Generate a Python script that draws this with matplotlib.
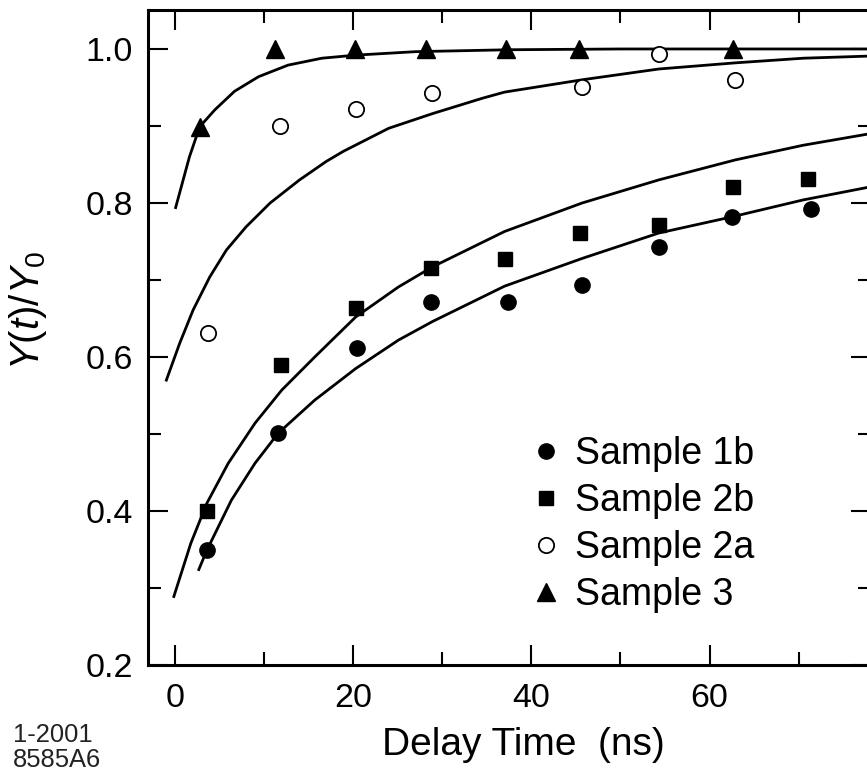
import matplotlib
matplotlib.use("Agg")
import matplotlib.pyplot as plt
from matplotlib.ticker import MultipleLocator, FormatStrFormatter

# ── Daten ────────────────────────────────────────────────────────────────────

t_1b = [3.6, 11.6, 20.4, 28.8, 37.4, 45.7, 54.3, 62.5, 71.4]
y_1b = [0.349, 0.501, 0.612, 0.671, 0.671, 0.693, 0.743, 0.782, 0.792]

t_2b = [3.6, 11.9, 20.3, 28.7, 37.1, 45.5, 54.3, 62.6, 71.0]
y_2b = [0.400, 0.590, 0.663, 0.716, 0.727, 0.761, 0.772, 0.821, 0.831]

t_2a = [3.7, 11.8, 20.3, 28.9, 45.7, 54.3, 62.8]
y_2a = [0.631, 0.900, 0.922, 0.943, 0.950, 0.994, 0.960]

t_3 = [2.8, 11.3, 20.2, 28.2, 37.2, 45.3, 62.6]
y_3 = [0.899, 1.0, 1.0, 1.0, 1.0, 1.0, 1.0]

# Fit-Kurven
fit_1b_t = [2.7, 3.6, 6.35, 9.0, 11.6, 15.7, 20.3, 25.1, 28.9, 37.0, 45.7, 54.3, 62.5, 70.5, 78.5]
fit_1b_y = [0.324, 0.349, 0.414, 0.462, 0.501, 0.544, 0.585, 0.622, 0.646, 0.692, 0.728, 0.761, 0.782, 0.804, 0.822]

fit_2b_t = [-0.1, 1.8, 3.6, 6.0, 9.0, 12.0, 15.7, 20.3, 25.1, 28.9, 37.0, 45.7, 54.3, 62.9, 70.5, 78.5]
fit_2b_y = [0.289, 0.358, 0.410, 0.462, 0.514, 0.557, 0.600, 0.652, 0.691, 0.717, 0.763, 0.800, 0.830, 0.856, 0.875, 0.891]

fit_2a_t = [-0.94, 0.56, 2.06, 3.93, 5.8, 8.0, 10.7, 14.0, 17.0, 18.9, 24.0, 28.9, 34.5, 37.0, 45.7, 54.3, 62.9, 70.5, 78.5]
fit_2a_y = [0.570, 0.618, 0.661, 0.704, 0.739, 0.769, 0.800, 0.830, 0.854, 0.867, 0.897, 0.916, 0.936, 0.944, 0.960, 0.974, 0.982, 0.988, 0.991]

fit_3_t = [0.1, 1.65, 2.8, 4.5, 6.7, 9.4, 12.7, 16.5, 20.3, 27.0, 37.5, 50.0, 65.0, 78.5]
fit_3_y = [0.794, 0.860, 0.899, 0.921, 0.945, 0.964, 0.979, 0.988, 0.992, 0.9965, 0.999, 1.0, 1.0, 1.0]

# ── Plot ─────────────────────────────────────────────────────────────────────

plt.rcParams["font.family"] = ["Liberation Sans", "DejaVu Sans"]
plt.rcParams["mathtext.fontset"] = "custom"
plt.rcParams["mathtext.it"] = "Liberation Sans:italic"
plt.rcParams["mathtext.rm"] = "Liberation Sans"

fig = plt.figure(figsize=(8.67, 7.76), dpi=100)
ax = fig.add_axes([0.1707, 0.1430, 0.8339, 0.8441])

LW = 2.0
for ft, fy in [(fit_1b_t, fit_1b_y), (fit_2b_t, fit_2b_y),
               (fit_2a_t, fit_2a_y), (fit_3_t, fit_3_y)]:
    ax.plot(ft, fy, color="black", linewidth=LW, zorder=2)

ax.plot(t_1b, y_1b, "o", color="black", ms=11, ls="none", label="Sample 1b", zorder=3)
ax.plot(t_2b, y_2b, "s", color="black", ms=10.5, ls="none", label="Sample 2b", zorder=3)
ax.plot(t_2a, y_2a, "o", mfc="white", mec="black", mew=1.3, ms=11, ls="none",
        label="Sample 2a", zorder=3)
ax.plot(t_3, y_3, "^", color="black", ms=13, ls="none", label="Sample 3", zorder=3)

ax.set_xlim(-3, 78.1)
ax.set_ylim(0.2, 1.0506)

ax.xaxis.set_major_locator(MultipleLocator(20))
ax.xaxis.set_minor_locator(MultipleLocator(10))
ax.yaxis.set_major_locator(MultipleLocator(0.2))
ax.yaxis.set_minor_locator(MultipleLocator(0.1))
ax.yaxis.set_major_formatter(FormatStrFormatter("%.1f"))

ax.tick_params(which="both", direction="in", top=True, right=True, width=1.5)
ax.tick_params(which="major", length=14.5, labelsize=24.5)
ax.tick_params(axis="x", which="major", pad=13)
ax.tick_params(axis="y", which="major", pad=11)
ax.tick_params(which="minor", length=9.5)
for sp in ax.spines.values():
    sp.set_linewidth(2.2)

ax.set_xlabel("Delay Time  (ns)", fontsize=28)
ax.xaxis.set_label_coords(0.519, -0.095)
ax.set_ylabel(r"$\mathit{Y(t)/Y_0}$", fontsize=29)
ax.yaxis.set_label_coords(-0.137, 0.542)

ax.legend(loc="upper left", bbox_to_anchor=(0.504, 0.378), frameon=False,
          fontsize=27, handlelength=0.8, handletextpad=0.37,
          labelspacing=0.29, borderpad=0)

fig.text(0.015, 0.0438, "1-2001", fontsize=18.4, color="#222222",
         ha="left", va="baseline")
fig.text(0.015, 0.0116, "8585A6", fontsize=18.4, color="#222222",
         ha="left", va="baseline")

fig.savefig("out.png", dpi=100)
